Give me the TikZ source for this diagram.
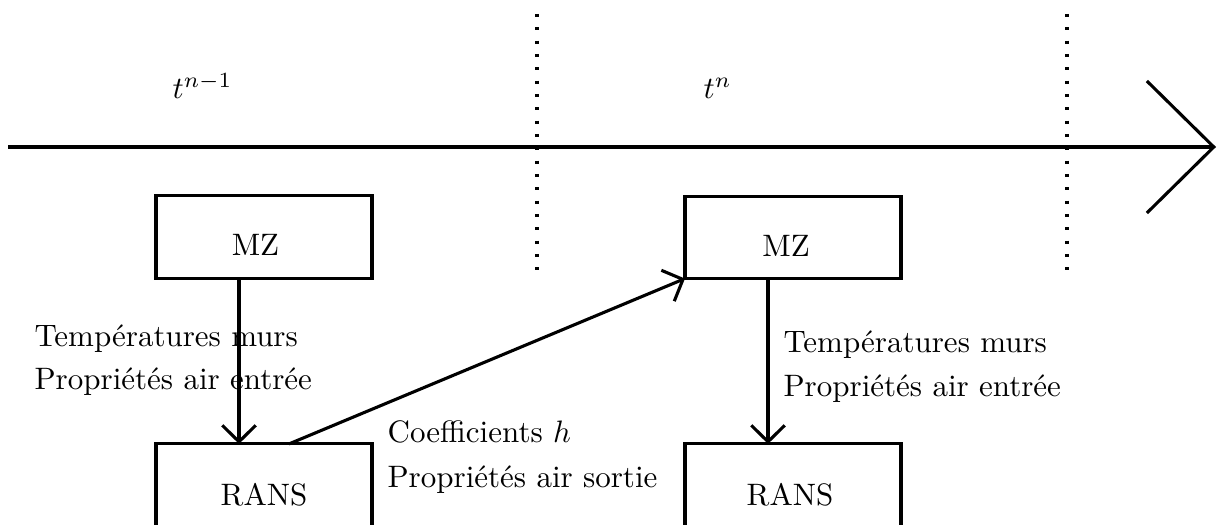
\documentclass[tikz,border=0pt]{standalone}
\usetikzlibrary{arrows.meta}
\begin{document}
\begin{tikzpicture}[x=0.3226pt,y=-0.3226pt,
  box/.style={draw,line width=1pt,minimum width=69.7pt,minimum height=26.5pt,inner sep=0pt,outer sep=0pt},
  lbl/.style={anchor=base west,inner sep=0pt},
  ctr/.style={anchor=base,inner sep=0pt},
  conn/.style={line width=1pt,-{Straight Barb[length=5.3pt,width=10.8pt,line width=1pt]}},
  axis/.style={line width=1pt,-{Straight Barb[length=21.6pt,width=42.6pt,line width=1pt]}},
  sep/.style={line width=1pt,dash pattern=on 1pt off 3.3pt}]
\useasboundingbox (0,0) rectangle (1220,525);
% time axis
\coordinate (a0) at (8,147);
\coordinate (a1) at (1216,147);
\draw[axis] (a0) -- (a1);
% separators
\coordinate (s1t) at (537,14);
\coordinate (s1b) at (537,280);
\coordinate (s2t) at (1067,14);
\coordinate (s2b) at (1067,270);
\draw[sep] (s1t) -- (s1b);
\draw[sep] (s2t) -- (s2b);
% time labels
\node[lbl] (tnm1) at (172,99) {$t^{n-1}$};
\node[lbl] (tn) at (703,99) {$t^{n}$};
% boxes
\node[box] (mz1) at (264,237) {};
\node[box] (rans1) at (264,485) {};
\node[box] (mz2) at (793,237.5) {};
\node[box] (rans2) at (793,485) {};
\node[ctr] (mz1t) at (255.5,256) {MZ};
\node[ctr] (rans1t) at (264,505) {RANS};
\node[ctr] (mz2t) at (786,257) {MZ};
\node[ctr] (rans2t) at (790,505) {RANS};
% connectors
\coordinate (c1) at (239,0);
\coordinate (c2) at (289,0);
\coordinate (c3) at (768,0);
\draw[conn] (mz1.south -| c1) -- (rans1.north -| c1);
\draw[conn] (rans1.north -| c2) -- (mz2.south west);
\draw[conn] (mz2.south -| c3) -- (rans2.north -| c3);
% labels
\node[lbl] (l1a) at (34,347) {Températures murs};
\node[lbl] (l1b) at (34,390) {Propriétés air entrée};
\node[lbl] (l2a) at (783,353) {Températures murs};
\node[lbl] (l2b) at (783,397) {Propriétés air entrée};
\node[lbl] (l3a) at (387,442) {Coefficients $h$};
\node[lbl] (l3b) at (387,487) {Propriétés air sortie};
\end{tikzpicture}
\end{document}
